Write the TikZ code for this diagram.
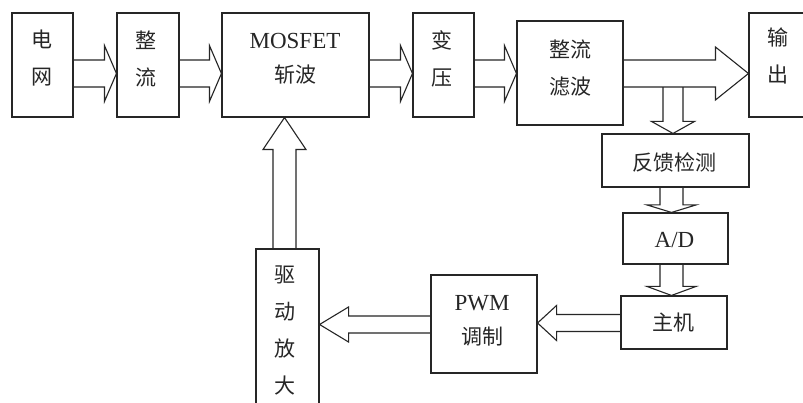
\documentclass[tikz,border=0pt]{standalone}
\usepackage{fontspec}
\setmainfont{Liberation Serif}
\newfontfamily\cjk{Noto Sans CJK SC}
\usetikzlibrary{calc}
\tikzset{
 box/.style={draw=black!85, line width=1.1pt, rectangle, inner sep=0pt},
 fat/.style={draw=black!85, line width=1.1pt, line join=miter, fill=white},
 zh/.style={font=\cjk\fontsize{21}{37}\selectfont, align=center, inner sep=0pt, text=black!85},
 en/.style={font=\fontsize{23}{30}\selectfont, inner sep=0pt, text=black!85},
}
\newcommand\fatarrow[5]{%
 \path coordinate (fa-t) at (#1) coordinate (fa-p) at (#2);
 \path coordinate (fa-h) at ($(fa-p)!#5!(fa-t)$);
 \draw[fat] ($(fa-t)!#3!90:(fa-p)$) -- ($(fa-h)!#3!90:(fa-p)$) -- ($(fa-h)!#4!90:(fa-p)$) -- (fa-p) -- ($(fa-h)!#4!-90:(fa-p)$) -- ($(fa-h)!#3!-90:(fa-p)$) -- ($(fa-t)!#3!-90:(fa-p)$);
}
\begin{document}
\begin{tikzpicture}[x=1pt,y=-1pt]
\useasboundingbox (0,0) rectangle (803,403);
\fill[white] (0,0) rectangle (803,403);
% boxes (positions)
\node[box, minimum width=61pt, minimum height=104pt] (grid) at (42.5,65) {};
\node[box, minimum width=62pt, minimum height=104pt] (zl) at (148,65) {};
\node[box, minimum width=147pt, minimum height=104pt] (mos) at (295.5,65) {};
\node[box, minimum width=61pt, minimum height=104pt] (by) at (443.5,65) {};
\node[box, minimum width=106pt, minimum height=104pt] (lb) at (570,73) {};
\node[box, minimum width=59pt, minimum height=104pt] (out) at (778.5,65) {};
\node[box, minimum width=147pt, minimum height=53pt] (fk) at (675.5,160.5) {};
\node[box, minimum width=105pt, minimum height=51pt] (ad) at (675.5,238.5) {};
\node[box, minimum width=106pt, minimum height=53pt] (zj) at (674,322.5) {};
\node[box, minimum width=106pt, minimum height=98pt] (pwm) at (484,324) {};
\node[box, minimum width=63pt, minimum height=171pt] (qd) at (287.5,334.5) {};
% row coordinates
\coordinate (row) at (0,73.5);
\coordinate (colfk) at (673,0);
\coordinate (colad) at (671.5,0);
\coordinate (rowpwm) at (0,323);
\coordinate (rowqd) at (0,324.5);
\coordinate (colqd) at (284.5,0);
% arrows
\fatarrow{grid.east |- row}{zl.west |- row}{13.5pt}{28pt}{12pt}
\fatarrow{zl.east |- row}{mos.west |- row}{13.5pt}{28pt}{12pt}
\fatarrow{mos.east |- row}{by.west |- row}{13.5pt}{28pt}{12pt}
\fatarrow{by.east |- row}{lb.west |- row}{13.5pt}{28pt}{12pt}
\coordinate (split) at ($(colfk |- row)+(0,13.5)$);
\fatarrow{split}{colfk |- fk.north}{10pt}{21.5pt}{12pt}
\fatarrow{lb.east |- row}{out.west |- row}{13.5pt}{26.5pt}{33pt}
\fatarrow{colad |- fk.south}{colad |- ad.north}{11.5pt}{24.5pt}{7.5pt}
\fatarrow{colad |- ad.south}{colad |- zj.north}{11.5pt}{24.5pt}{9pt}
\fatarrow{zj.west |- rowpwm}{pwm.east |- rowpwm}{8.5pt}{17.5pt}{19pt}
\fatarrow{pwm.west |- rowqd}{qd.east |- rowqd}{8.5pt}{17.5pt}{29pt}
\fatarrow{colqd |- qd.north}{colqd |- mos.south}{11.5pt}{21.5pt}{32pt}
% redraw boxes on top
\foreach \n in {grid,zl,mos,by,lb,out,fk,ad,zj,pwm,qd}{\draw[draw=black!85, line width=1.1pt] (\n.north west) rectangle (\n.south east);}
% texts
\node[zh] (grid-t) at (41.5,58.5) {电\\网};
\node[zh] (zl-t) at (146,58.5) {整\\流};
\node[en] (mos-a) at (295,41) {MOSFET};
\node[zh] (mos-b) at (295,75) {斩波};
\node[zh] (by-t) at (442,59) {变\\压};
\node[zh] (lb-t) at (570,68.5) {整流\\滤波};
\node[zh] (out-t) at (778,56) {输\\出};
\node[zh] (fk-t) at (674,162) {反馈检测};
\node[en] (ad-t) at (674.5,240) {A/D};
\node[zh] (zj-t) at (673,323) {主机};
\node[en] (pwm-a) at (482,303) {PWM};
\node[zh] (pwm-b) at (482,337) {调制};
\node[zh] (qd-t) at (285,330) {驱\\动\\放\\大};
\end{tikzpicture}
\end{document}
